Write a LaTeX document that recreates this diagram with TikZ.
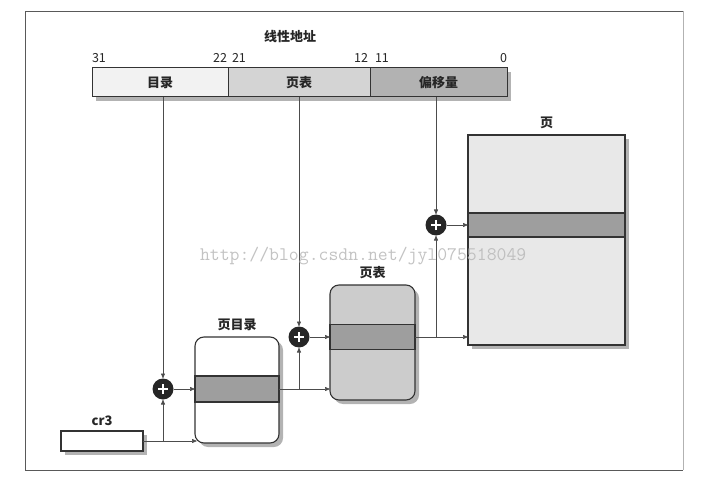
\documentclass[tikz,border=0pt]{standalone}
\usepackage{fontspec}
\setmainfont{Noto Sans CJK SC}
\usepackage{xcolor}
\usetikzlibrary{arrows.meta,positioning,shadows,calc}
\colorlet{lineC}{black!80}
\colorlet{fieldA}{black!5}
\colorlet{fieldB}{black!17}
\colorlet{fieldC}{black!30}
\colorlet{stripeC}{black!38}

\begin{document}
\begin{tikzpicture}[x=1pt,y=-1pt,
    every node/.style={inner sep=0pt, outer sep=0pt},
    conn/.style={draw=black!70, line width=0.6pt},
    arr/.style={conn, -{Triangle[length=5pt,width=4pt]}},
    field/.style={draw=lineC, line width=1pt, minimum height=29pt},
    shade box/.style={draw=lineC, line width=1.1pt,
      drop shadow={shadow xshift=4pt, shadow yshift=-4pt, fill=black!50, opacity=0.6}},
    stripe/.style={draw=lineC, line width=1.1pt, fill=stripeC},
    adder/.style={circle, fill=black!85, minimum size=21pt,
      path picture={\draw[white, line width=2.6pt]
        ($(path picture bounding box.center)+(-5pt,0pt)$) -- ++(10pt,0pt)
        ($(path picture bounding box.center)+(0pt,-5pt)$) -- ++(0pt,10pt);}},
    lab/.style={font=\bfseries\fontsize{13}{15}\selectfont, text=black!85},
    bit/.style={font=\fontsize{12.5}{14}\selectfont, text=black!85}]
  \useasboundingbox (0,0) rectangle (711,494);

  % page frame
  \draw[black!65, line width=0.8pt] (683,11) -- (25,11) -- (25,470) -- (683,470);
  \draw[black!30, line width=0.8pt] (683,11) -- (683,470);

  % linear address
  \node[lab] (title) at (290,37) {线性地址};
  \node[field, minimum width=415pt,
    drop shadow={shadow xshift=4pt, shadow yshift=-4pt, fill=black!50, opacity=0.6}] (bar) at (299.5,82.5) {};
  \node[field, fill=fieldA, minimum width=136pt] (dir) at (160,82.5) {};
  \node[field, fill=fieldB, minimum width=142pt] (tbl) at (299,82.5) {};
  \node[field, fill=fieldC, minimum width=137pt] (off) at (438.5,82.5) {};
  \node[lab] at (dir) {目录};
  \node[lab] at (tbl) {页表};
  \node[lab] at (off) {偏移量};

  % bit numbers
  \node[bit, anchor=south west] at (92,63) {31};
  \node[bit, anchor=south east] at (227,63) {22};
  \node[bit, anchor=south west] at (232,63) {21};
  \node[bit, anchor=south east] at (368,63) {12};
  \node[bit, anchor=south west] at (375,63) {11};
  \node[bit, anchor=south east] at (507,63) {0};

  % cr3 register
  \node[shade box, fill=white, minimum width=82pt, minimum height=20pt] (cr3) at (102,441) {};
  \node[lab, above=5pt of cr3] {cr3};

  % page directory
  \node[shade box, fill=white, rounded corners=9pt, minimum width=84pt, minimum height=106pt] (pd) at (237,390) {};
  \node[stripe, minimum width=84pt, minimum height=26pt] (pde) at (237,389) {};
  \node[lab, above=6pt of pd] {页目录};

  % page table
  \node[shade box, fill=black!20, rounded corners=9pt, minimum width=85pt, minimum height=115pt] (pt) at (372.5,342.5) {};
  \node[stripe, minimum width=85pt, minimum height=25pt] (pte) at (372.5,337) {};
  \node[lab, above=6pt of pt] {页表};

  % page
  \node[shade box, fill=black!9, minimum width=157pt, minimum height=210pt] (pg) at (546.5,240) {};
  \node[stripe, minimum width=157pt, minimum height=24pt] (pge) at (546.5,225) {};
  \node[lab, above=6pt of pg] {页};

  % adders
  \node[adder] (a1) at (163,389) {};
  \node[adder] (a2) at (299,337) {};
  \node[adder] (a3) at (436,225) {};

  % cr3 -> page directory
  \coordinate (pdin) at (197,441);
  \draw[arr] (cr3.east) -- (pdin);
  \draw[arr] (cr3.east -| a1) -- (a1.south);
  \draw[arr] (a1 |- dir.south) -- (a1.north);
  \draw[arr] (a1.east) -- (pde.west);

  % page directory -> page table
  \draw[arr] (pde.east) -- (pde -| pt.west);
  \draw[arr] (pde -| a2) -- (a2.south);
  \draw[arr] (a2 |- tbl.south) -- (a2.north);
  \draw[arr] (a2.east) -- (pte.west);

  % page table -> page
  \draw[arr] (pte.east) -- (pte -| pg.west);
  \draw[arr] (pte -| a3) -- (a3.south);
  \draw[arr] (a3 |- off.south) -- (a3.north);
  \draw[arr] (a3.east) -- (pge.west);

  % watermark
  \node[anchor=base west, text=black!28, opacity=0.85,
    font=\ttfamily\fontsize{19.2}{21}\selectfont] (wm) at (200,260) {http://blog.csdn.net/jyl075518049};
\end{tikzpicture}
\end{document}
